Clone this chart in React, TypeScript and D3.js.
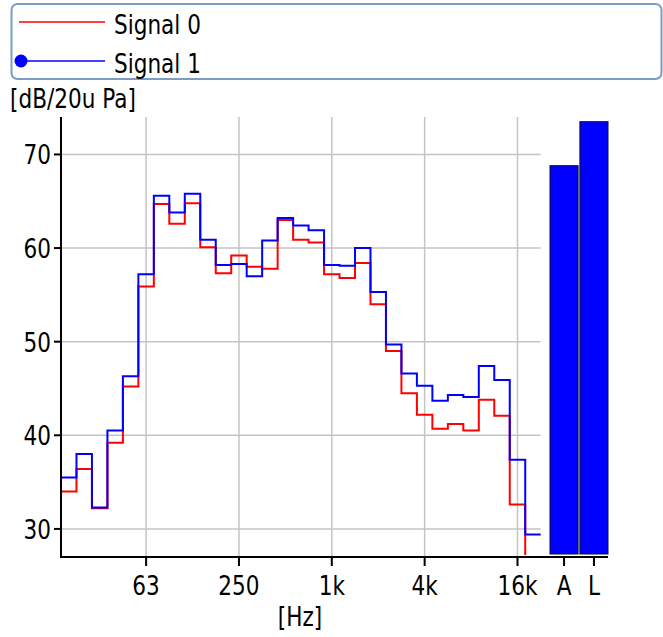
import { useMemo } from 'react'
import * as d3 from 'd3'

// ── data ─────────────────────────────────────────────────────────────────────
// third-octave band index relative to 1 kHz (f = 1000 * 2^(n/3)), 20 Hz .. 20 kHz
const BAND_N   = d3.range(-17, 14)
const TICK_N   = [-12, -6, 0, 6, 12]
const TICK_LBL = ['63', '250', '1k', '4k', '16k']

const SIGNAL0 = [34.0, 36.4, 32.2, 39.2, 45.2, 55.9, 64.7, 62.6, 64.8, 60.1, 57.3, 59.2, 58.0, 57.8, 63.0, 60.9,
  60.6, 57.2, 56.8, 58.4, 54.0, 49.0, 44.5, 42.2, 40.7, 41.2, 40.5, 43.8, 42.1, 32.6, 20.0]
const SIGNAL1 = [35.5, 38.0, 32.3, 40.5, 46.3, 57.2, 65.6, 63.8, 65.8, 60.9, 58.2, 58.3, 57.0, 60.8, 63.2, 62.4,
  61.9, 58.2, 58.1, 60.0, 55.3, 49.7, 46.6, 45.3, 43.7, 44.3, 44.1, 47.4, 45.9, 37.4, 29.4]

const TOTAL_LBL = ['A', 'L']
const TOTAL_VAL = [68.8, 73.5]

const Y_TICKS  = [30, 40, 50, 60, 70]
const SERIES   = ['Signal 0', 'Signal 1']

// ── constants ────────────────────────────────────────────────────────────────
const W = 663, H = 637
const PL = 61, PT = 117, PB = 557, PR_LINE = 540.7, PR = 608
const RED  = '#ff0000'
const BLUE = '#0000ff'
const GRID = '#c4c4c4'
const FONT = '"DejaVu Sans", Verdana, sans-serif'
const FS   = 27
const SX   = 0.8   // the original glyphs are a condensed Tahoma-like face

const freq = (n: number) => 1000 * Math.pow(2, n / 3)

function Label({ x, y, anchor = 'start', children }: { x: number; y: number; anchor?: string; children: any }) {
  return (
    <text transform={`translate(${x},${y}) scale(${SX},1)`} textAnchor={anchor}
      fontFamily={FONT} fontSize={FS} fill="#000">{children}</text>
  )
}

export default function App() {
  const x = useMemo(() => d3.scaleLog().base(2)
    .domain([freq(BAND_N[0] - 0.5), freq(BAND_N[BAND_N.length - 1] + 0.5)])
    .range([PL, PR_LINE]), [])
  const y = useMemo(() => d3.scaleLinear().domain([27, 74]).range([PB, PT]), [])
  const xb = useMemo(() => d3.scaleBand<string>().domain(TOTAL_LBL).range([550, PR]).paddingInner(0.06), [])

  // step line: each band value runs from its lower to its upper edge
  const stepPath = (vals: number[]) => {
    const pts: [number, number][] = BAND_N.map((n, i) => [x(freq(n - 0.5)), y(vals[i])])
    pts.push([x(freq(BAND_N[BAND_N.length - 1] + 0.5)), y(vals[vals.length - 1])])
    return d3.line().curve(d3.curveStepAfter)(pts) ?? ''
  }

  return (
    <svg width={W} height={H} style={{ position: 'absolute', left: 0, top: 0, display: 'block', background: '#fff' }}>
      <defs>
        <clipPath id="plot"><rect x={PL} y={PT} width={PR - PL} height={PB - PT - 2} /></clipPath>
      </defs>

      {/* Legend */}
      <rect x={11.5} y={4} width={650} height={75} rx={6} fill="#fff" stroke="#7b9cc6" strokeWidth={2} />
      <line x1={19} x2={105} y1={22} y2={22} stroke={RED} strokeWidth={1.5} />
      <Label x={114} y={34}>{SERIES[0]}</Label>
      <line x1={21} x2={105} y1={61} y2={61} stroke={BLUE} strokeWidth={1.5} />
      <circle cx={21} cy={61} r={6.5} fill={BLUE} />
      <Label x={114} y={73}>{SERIES[1]}</Label>

      <Label x={10} y={108}>[dB/20u Pa]</Label>

      {/* Grid */}
      {TICK_N.map(n => (
        <line key={n} x1={x(freq(n))} x2={x(freq(n))} y1={PT} y2={PB} stroke={GRID} strokeWidth={1.5} />
      ))}
      {Y_TICKS.map(v => (
        <line key={v} x1={PL} x2={PR_LINE} y1={y(v)} y2={y(v)} stroke={GRID} strokeWidth={1.5} />
      ))}

      {/* A / L totals */}
      {TOTAL_LBL.map((k, i) => (
        <rect key={k} x={xb(k)} y={y(TOTAL_VAL[i])} width={xb.bandwidth()} height={PB - 3 - y(TOTAL_VAL[i])}
          fill={BLUE} stroke="#111" strokeWidth={1} />
      ))}

      {/* Spectra */}
      <g clipPath="url(#plot)">
        <path d={stepPath(SIGNAL0)} fill="none" stroke={RED} strokeWidth={2} />
        <path d={stepPath(SIGNAL1)} fill="none" stroke={BLUE} strokeWidth={2} />
      </g>

      {/* Axes */}
      <line x1={PL} x2={PL} y1={PT} y2={PB + 1} stroke="#000" strokeWidth={2} />
      <line x1={PL} x2={PR} y1={PB} y2={PB} stroke="#000" strokeWidth={2} />
      {Y_TICKS.map(v => (
        <g key={v}>
          <line x1={PL - 7} x2={PL} y1={y(v)} y2={y(v)} stroke="#000" strokeWidth={2} />
          <Label x={51} y={y(v) + 10} anchor="end">{v}</Label>
        </g>
      ))}
      {TICK_N.map((n, i) => (
        <g key={n}>
          <line x1={x(freq(n))} x2={x(freq(n))} y1={PB} y2={PB + 9} stroke="#000" strokeWidth={2} />
          <Label x={x(freq(n))} y={595} anchor="middle">{TICK_LBL[i]}</Label>
        </g>
      ))}
      {TOTAL_LBL.map(k => (
        <g key={k}>
          <line x1={xb(k)! + xb.bandwidth() / 2} x2={xb(k)! + xb.bandwidth() / 2} y1={PB} y2={PB + 9} stroke="#000" strokeWidth={2} />
          <Label x={xb(k)! + xb.bandwidth() / 2} y={595} anchor="middle">{k}</Label>
        </g>
      ))}
      <Label x={300} y={626} anchor="middle">[Hz]</Label>
    </svg>
  )
}
